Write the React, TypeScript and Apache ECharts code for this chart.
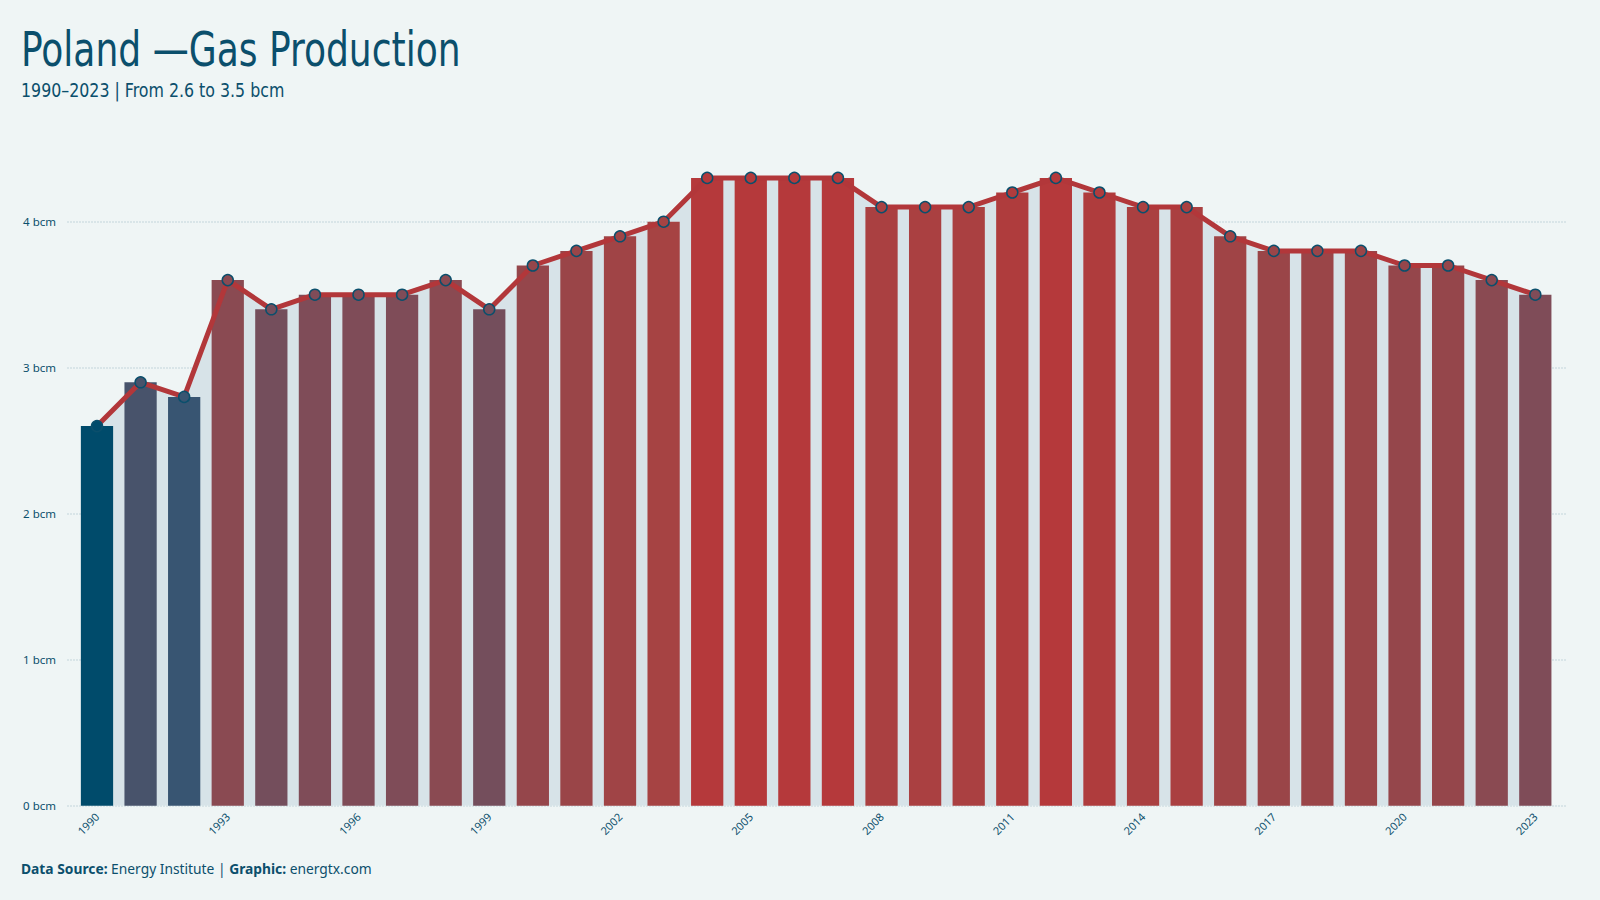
import React, { useEffect, useRef } from "react";
import * as echarts from "echarts";

const years = [
  "1990", "1991", "1992", "1993", "1994", "1995", "1996", "1997", "1998", "1999",
  "2000", "2001", "2002", "2003", "2004", "2005", "2006", "2007", "2008", "2009",
  "2010", "2011", "2012", "2013", "2014", "2015", "2016", "2017", "2018", "2019",
  "2020", "2021", "2022", "2023",
];
const production = [
  2.6, 2.9, 2.8, 3.6, 3.4, 3.5, 3.5, 3.5, 3.6, 3.4,
  3.7, 3.8, 3.9, 4.0, 4.3, 4.3, 4.3, 4.3, 4.1, 4.1,
  4.1, 4.2, 4.3, 4.2, 4.1, 4.1, 3.9, 3.8, 3.8, 3.8,
  3.7, 3.7, 3.6, 3.5,
];
// colour scale from 2.6 bcm to 4.3 bcm in 0.1 steps
const paletteMin = 2.6;
const palette = [
  "#004b6b", "#1e5170", "#385572", "#48536b", "#55526a", "#5e5165",
  "#675062", "#6e4f5f", "#744e5c", "#7f4c58", "#8a4a52", "#95464b",
  "#9a4548", "#a04446", "#a64343", "#aa4041", "#af3c3d", "#b5393b",
];
const yTicks = [0, 1, 2, 3, 4];

const title = "Poland \u2014Gas Production";
const subtitle = "1990\u20132023 | From 2.6 to 3.5 bcm";

const BG = "#eff5f5";
const INK = "#0b4f6c";

function colorFor(v: number) {
  const i = Math.max(0, Math.min(palette.length - 1, Math.round((v - paletteMin) * 10)));
  return palette[i];
}

export default function App() {
  const ref = useRef<HTMLDivElement>(null);
  useEffect(() => {
    if (!ref.current) return;
    const chart = echarts.init(ref.current, undefined, { renderer: "svg" });
    const bottom = 94.3;
    const unit = 146;
    const yMax = 4.5;
    const gridTop = 900 - bottom - yMax * unit;
    const tickMax = yTicks[yTicks.length - 1];
    const tickTop = 900 - bottom - tickMax * unit;
    chart.setOption({
      animation: false,
      backgroundColor: BG,
      grid: [
        { left: 67, right: 33, top: tickTop, bottom },
        { left: 75.2, right: 42.9, top: gridTop, bottom },
      ],
      xAxis: [
        { type: "category", gridIndex: 0, data: years, show: false },
        {
          type: "category",
          gridIndex: 1,
          data: years,
          axisLine: { show: false },
          axisTick: { show: false },
          axisLabel: {
            interval: 2,
            rotate: 45,
            margin: 9,
            fontSize: 11,
            color: INK,
            fontFamily: "Noto Sans, Open Sans, sans-serif",
          },
        },
      ],
      yAxis: [
        {
          type: "value",
          gridIndex: 0,
          min: 0,
          max: tickMax,
          interval: 1,
          axisLine: { show: false },
          axisTick: { show: false },
          axisLabel: {
            margin: 11,
            fontSize: 11.5,
            color: INK,
            fontFamily: "Noto Sans, Open Sans, sans-serif",
            formatter: (v: number) => `${v} bcm`,
          },
          splitLine: {
            show: true,
            lineStyle: { color: "#d2dfe4", width: 1.5, type: [2, 1] },
          },
        },
        {
          type: "value",
          gridIndex: 1,
          min: 0,
          max: yMax,
          show: false,
          splitLine: { show: false },
        },
      ],
      series: [
        {
          type: "line",
          xAxisIndex: 1,
          yAxisIndex: 1,
          data: production,
          showSymbol: false,
          symbol: "none",
          lineStyle: { width: 0, opacity: 0 },
          areaStyle: { color: "#d7e3e8", opacity: 1 },
          z: 1,
          silent: true,
        },
        {
          type: "bar",
          xAxisIndex: 1,
          yAxisIndex: 1,
          barWidth: "74%",
          data: production.map((v) => ({ value: v, itemStyle: { color: colorFor(v) } })),
          z: 2,
        },
        {
          type: "line",
          xAxisIndex: 1,
          yAxisIndex: 1,
          data: production.map((v) => ({
            value: v,
            itemStyle: { color: colorFor(v), borderColor: INK, borderWidth: 1.5 },
          })),
          symbol: "circle",
          symbolSize: 11,
          showSymbol: true,
          lineStyle: { color: "#b2373a", width: 5 },
          z: 3,
        },
      ],
      graphic: [
        {
          type: "text",
          x: 21,
          y: 25,
          scaleX: 0.835,
          style: {
            text: title,
            fill: INK,
            verticalAlign: "top",
            font: "48px 'Ubuntu Condensed', 'Liberation Sans Narrow', 'DejaVu Sans Condensed', 'Roboto', sans-serif",
          },
        },
        {
          type: "text",
          x: 21,
          y: 80,
          scaleX: 0.88,
          style: {
            text: subtitle,
            fill: INK,
            verticalAlign: "top",
            font: "20px 'Ubuntu Condensed', 'Liberation Sans Narrow', 'DejaVu Sans Condensed', 'Roboto', sans-serif",
          },
        },
        {
          type: "text",
          x: 21,
          y: 861,
          style: {
            text: "{b|Data Source:} Energy Institute | {b|Graphic:} energtx.com",
            fill: INK,
            verticalAlign: "top",
            font: "13.8px 'Noto Sans', 'Open Sans', sans-serif",
            rich: {
              b: {
                fontWeight: "bold",
                fontSize: 13.8,
                fontFamily: "Noto Sans, Open Sans, sans-serif",
                fill: INK,
              },
            },
          },
        },
      ],
    });
    return () => chart.dispose();
  }, []);
  return (
    <div
      ref={ref}
      style={{ position: "fixed", left: 0, top: 0, width: 1600, height: 900, background: BG }}
    />
  );
}
